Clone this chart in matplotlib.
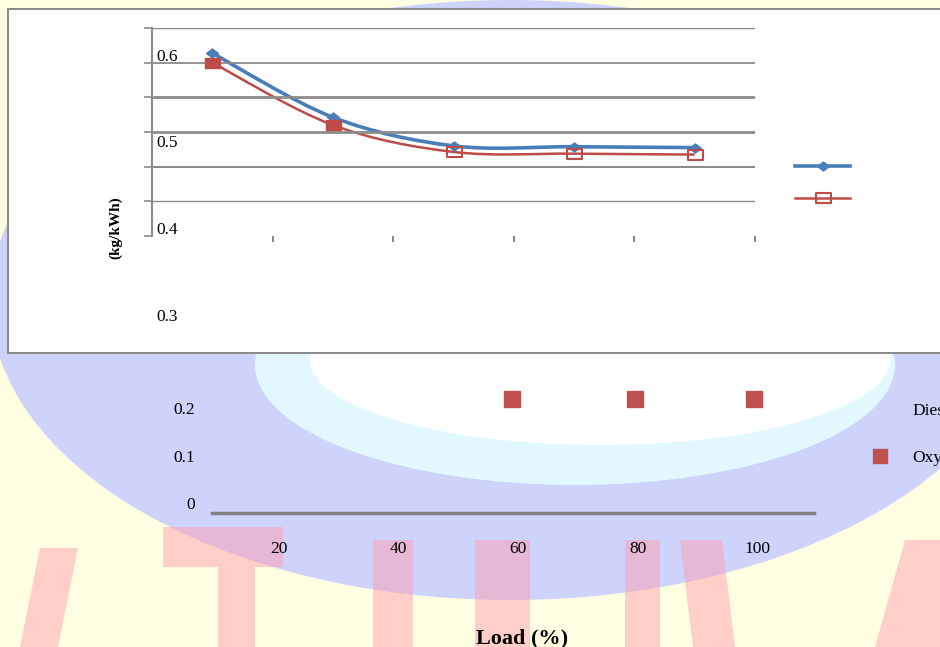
import numpy as np
import matplotlib
matplotlib.use("Agg")
import matplotlib.pyplot as plt
from matplotlib.path import Path
from matplotlib.patches import PathPatch, Ellipse, Rectangle, Polygon
from matplotlib.lines import Line2D
from matplotlib.transforms import ScaledTranslation

plt.rcParams['font.family'] = ['Liberation Serif', 'DejaVu Serif']

# --- data ---
# upper chart: five load slots (category axis)
load_slots = [1, 2, 3, 4, 5]
diesel_bsfc = [0.611, 0.537, 0.504, 0.503, 0.502]
oxygen_bsfc = [0.600, 0.528, 0.497, 0.495, 0.494]
upper_label_values = [0.6, 0.5, 0.4, 0.3]
upper_label_text = ['0.6', '0.5', '0.4', '0.3']

# lower chart (second copy of the plot, mostly hidden)
load_ticks = [20, 40, 60, 80, 100]
lower_oxy_load = [59, 79.5, 99.5]
lower_oxy_value = [0.219, 0.219, 0.219]
lower_ticks = [0, 0.1, 0.2]
lower_tick_text = ['0', '0.1', '0.2']
series_names = ['Diesel', 'Oxygen']

BLUE = '#4a7ebb'
RED = '#be4b48'
RED2 = '#c0504d'
GRID = '#8c8c8c'


def closed(verts):
    return Path(verts + [verts[0]], closed=True)


DIAMOND = closed([(0, 1), (1.33, 0), (0, -1), (-1.33, 0)])
RECT = closed([(-1.5, -1), (1.5, -1), (1.5, 1), (-1.5, 1)])


def smooth_path(xs, ys):
    # Excel-style smoothed line: Catmull-Rom through the points as Bezier
    p = np.column_stack([xs, ys]).astype(float)
    ext = np.vstack([p[0], p, p[-1]])
    verts = [p[0]]
    codes = [Path.MOVETO]
    for i in range(len(p) - 1):
        p0, p1, p2, p3 = ext[i], ext[i + 1], ext[i + 2], ext[i + 3]
        verts += [p1 + (p2 - p0) / 6, p2 - (p3 - p1) / 6, p2]
        codes += [Path.CURVE4] * 3
    return Path(verts, codes)


fig = plt.figure(figsize=(9.4, 6.47), dpi=100)
fig.patch.set_facecolor('#fffee2')

# --- background watermark (page decoration behind the chart) ---
bg = fig.add_axes([0, 0, 1, 1], zorder=0)
bg.set_xlim(0, 940)
bg.set_ylim(647, 0)
bg.axis('off')
bg.add_patch(Ellipse((510, 300), 1040, 600, color='#cdd3fb', lw=0))
bg.add_patch(Ellipse((575, 365), 640, 240, color='#e2f8fe', lw=0))
bg.add_patch(Ellipse((600, 360), 580, 170, color='white', lw=0))
strokes = [
    [(40, 548), (78, 548), (58, 647), (20, 647)],
    [(163, 527), (283, 527), (283, 567), (163, 567)],
    [(218, 567), (255, 567), (255, 647), (218, 647)],
    [(373, 540), (413, 540), (413, 647), (373, 647)],
    [(475, 540), (530, 540), (530, 647), (475, 647)],
    [(625, 540), (660, 540), (660, 647), (625, 647)],
    [(680, 540), (722, 540), (735, 647), (693, 647)],
    [(905, 540), (940, 540), (940, 647), (875, 647)],
]
for s in strokes:
    bg.add_patch(Polygon(s, closed=True, color='#ff9fb0', alpha=0.5, lw=0))
bg.add_patch(Rectangle((8, 9), 945, 344, facecolor='white',
                       edgecolor=GRID, lw=1.5))
ylab = bg.text(116, 228, '(kg/kWh)', rotation=90, ha='center', va='center',
               fontsize=11, fontweight='bold')
ylab.set_clip_path(Rectangle((112, 100), 40, 300, transform=bg.transData))

# --- upper chart ---
ax = fig.add_axes([152 / 940, 1 - 236 / 647, 603 / 940, 208 / 647], zorder=2)
ax.set_facecolor('none')
ax.set_xlim(0.5, 5.5)
ax.set_ylim(0.4, 0.64)
ax.set_yticks(np.linspace(0.4, 0.64, 7))
ax.set_yticklabels([])
ax.set_xticks([1.5, 2.5, 3.5, 4.5, 5.5])
ax.set_xticklabels([])
ax.tick_params(axis='y', length=6, color=GRID, width=1.2)
ax.tick_params(axis='x', length=4, color=GRID, width=1.5)
ax.grid(axis='y', color=GRID)
for gl, lw in zip(ax.get_ygridlines(), [0, 1.0, 1.5, 2.0, 2.0, 1.3, 1.0]):
    gl.set_linewidth(lw)
for side in ['top', 'right', 'bottom']:
    ax.spines[side].set_visible(False)
ax.spines['left'].set_color(GRID)
ax.spines['left'].set_linewidth(1.5)

ax.add_patch(PathPatch(smooth_path(load_slots, diesel_bsfc), fill=False,
                       ec=BLUE, lw=2.6))
ax.add_patch(PathPatch(smooth_path(load_slots, oxygen_bsfc), fill=False,
                       ec=RED, lw=1.8))
ax.plot(load_slots, diesel_bsfc, ls='none', marker=DIAMOND, ms=8.6, color=BLUE)
ax.plot(load_slots[2:], oxygen_bsfc[2:], ls='none', marker=RECT, ms=10.8,
        mfc='none', mec=RED, mew=1.5)
ax.plot(load_slots[:2], oxygen_bsfc[:2], ls='none', marker=RECT, ms=10.8,
        color=RED)

off = ScaledTranslation(0, 6 / 100, fig.dpi_scale_trans)
for v, s in zip(upper_label_values, upper_label_text):
    ax.text(4 / 603, v, s, transform=ax.get_yaxis_transform() + off,
            ha='left', va='center', fontsize=12.5, clip_on=False)

hd = [Line2D([], [], color=BLUE, lw=2.6, marker=DIAMOND, ms=8.6),
      Line2D([], [], color=RED, lw=1.8, marker=RECT, ms=10.8,
             mfc='none', mec=RED, mew=1.5)]
ax.legend(hd, ['', ''], loc='upper left',
          bbox_to_anchor=(795 / 940, 1 - 161 / 647),
          bbox_transform=fig.transFigure, frameon=False, borderpad=0,
          borderaxespad=0, handlelength=3.96, handletextpad=0,
          labelspacing=1.37, fontsize=10, numpoints=1)

# --- lower chart ---
ax2 = fig.add_axes([212 / 940, 1 - 513 / 647, 602 / 940, 133 / 647], zorder=1)
ax2.set_facecolor('none')
ax2.set_xlim(8.8, 109.5)
ax2.set_ylim(-0.021, 0.259)
ax2.plot(lower_oxy_load, lower_oxy_value, ls='none', marker='s', ms=11,
         color=RED2)
ax2.set_xticks(load_ticks)
ax2.set_xticklabels([str(t) for t in load_ticks])
ax2.set_yticks(lower_ticks)
ax2.set_yticklabels(lower_tick_text)
ax2.tick_params(length=0, labelsize=12.5)
ax2.tick_params(axis='x', pad=20)
ax2.tick_params(axis='y', pad=12)
for side in ['top', 'right', 'left']:
    ax2.spines[side].set_visible(False)
ax2.spines['bottom'].set_color('#808080')
ax2.spines['bottom'].set_linewidth(2.5)
ax2.set_xlabel('Load (%)', fontsize=16, fontweight='bold')
ax2.xaxis.set_label_coords(0.515, -0.87)

hd2 = [Line2D([], [], ls='none'),
       Line2D([], [], ls='none', marker='s', ms=10, color=RED2)]
ax2.legend(hd2, series_names, loc='upper left',
           bbox_to_anchor=(871 / 940, 1 - 402.5 / 647),
           bbox_transform=fig.transFigure, frameon=False, borderpad=0,
           borderaxespad=0, handlelength=1.0, handletextpad=1.4,
           labelspacing=1.82, fontsize=12.5, numpoints=1)

fig.savefig('out.png', dpi=100)
